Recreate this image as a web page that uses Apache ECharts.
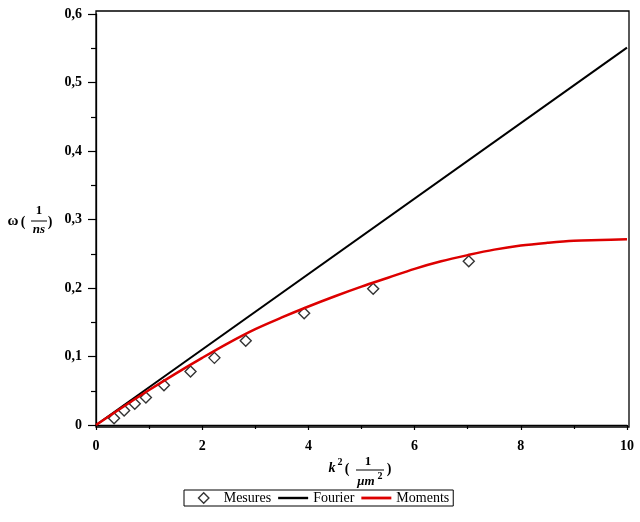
<!DOCTYPE html>
<html>
<head>
<meta charset="utf-8">
<script src="https://cdn.jsdelivr.net/npm/echarts@6/dist/echarts.min.js"></script>
<style>
html,body{margin:0;padding:0;background:#fff;}
#chart{width:640px;height:522px;}
</style>
</head>
<body>
<div id="chart"></div>
<script>
// Measured points (Mesures)
var mesuresX = [0.34, 0.53, 0.73, 0.94, 1.28, 1.78, 2.23, 2.82, 3.92, 5.22, 7.02];
var mesuresY = [0.010, 0.021, 0.031, 0.040, 0.058, 0.078, 0.098, 0.123, 0.163, 0.199, 0.239];
// Fourier line
var fourierX = [0, 10];
var fourierY = [0, 0.551];
// Moments curve
var momentsX = [0, 0.5, 1, 1.5, 2, 2.5, 3, 3.5, 4, 4.5, 5, 5.5, 6, 6.5, 7, 7.5, 8, 8.5, 9, 9.5, 10];
var momentsY = [0, 0.026, 0.051, 0.075, 0.098, 0.120, 0.140, 0.157, 0.173, 0.188, 0.202, 0.215, 0.228, 0.239, 0.248, 0.256, 0.262, 0.266, 0.269, 0.270, 0.271];
// Axis ticks
var xTicks = {min: 0, max: 10, step: 2};
var yTicks = {min: 0, max: 0.6, step: 0.1};
var seriesNames = ['Mesures', 'Fourier', 'Moments'];

function zip(a, b) { return a.map(function (v, i) { return [v, b[i]]; }); }
function comma(v) { return String(Math.round(v * 1000) / 1000).replace('.', ','); }

var SERIF = '"Liberation Serif", "DejaVu Serif", serif';
var chart = echarts.init(document.getElementById('chart'), null, {renderer: 'canvas'});

function txt(x, y, s, font) {
  return {type: 'text', x: x, y: y, z: 10, style: {text: s, font: font + ' ' + SERIF, fill: '#000', align: 'center', verticalAlign: 'middle'}};
}
function bar(x1, x2, y) {
  return {type: 'line', z: 10, shape: {x1: x1, y1: y, x2: x2, y2: y}, style: {stroke: '#000', lineWidth: 1}};
}

var option = {
  animation: false,
  backgroundColor: '#fff',
  grid: [
    {left: 96, right: 13, top: 14, bottom: 97, containLabel: false},
    {left: 96, right: 11, top: 11, bottom: 95, show: true, borderColor: '#000', borderWidth: 1.3, backgroundColor: 'transparent', containLabel: false}
  ],
  xAxis: [
    {
      type: 'value', gridIndex: 0, min: xTicks.min, max: xTicks.max, interval: xTicks.step,
      offset: 2,
      axisLine: {show: true, lineStyle: {color: '#000', width: 1.3}},
      axisTick: {show: true, inside: false, length: 5, lineStyle: {color: '#000', width: 1.2}},
      minorTick: {show: true, splitNumber: 2, length: 4, lineStyle: {color: '#000', width: 1.2}},
      axisLabel: {margin: 12, color: '#000', fontFamily: SERIF, fontWeight: 'bold', fontSize: 14, formatter: comma},
      splitLine: {show: false}
    },
    {type: 'value', gridIndex: 1, show: false, min: 0, max: 1}
  ],
  yAxis: [
    {
      type: 'value', gridIndex: 0, min: yTicks.min, max: yTicks.max, interval: yTicks.step,
      axisLine: {show: true, lineStyle: {color: '#000', width: 1.3}},
      axisTick: {show: true, inside: false, length: 8, lineStyle: {color: '#000', width: 1.2}},
      minorTick: {show: true, splitNumber: 2, length: 5, lineStyle: {color: '#000', width: 1.2}},
      axisLabel: {margin: 14, color: '#000', fontFamily: SERIF, fontWeight: 'bold', fontSize: 14, formatter: comma},
      splitLine: {show: false}
    },
    {type: 'value', gridIndex: 1, show: false, min: 0, max: 1}
  ],
  legend: {
    left: 184, top: 490,
    orient: 'horizontal',
    data: [
      {name: seriesNames[0], icon: 'path://M0,0 M30,12 M15,0.8 L20.2,6 L15,11.2 L9.8,6 Z', itemStyle: {color: '#fff', borderColor: '#000', borderWidth: 1.4}},
      {name: seriesNames[1], icon: 'path://M0,0 M30,12 M0,4.8 L30,4.8 L30,7.2 L0,7.2 Z', itemStyle: {color: '#000', borderWidth: 0}},
      {name: seriesNames[2], icon: 'path://M0,0 M30,12 M0,4.6 L30,4.6 L30,7.4 L0,7.4 Z', itemStyle: {color: '#dd0000', borderWidth: 0}}
    ],
    itemWidth: 30, itemHeight: 12, itemGap: 7,
    padding: [1, 4],
    borderColor: '#000', borderWidth: 1, borderRadius: 0,
    backgroundColor: '#fff',
    textStyle: {fontFamily: SERIF, fontSize: 14, color: '#000', lineHeight: 14},
    selectedMode: false
  },
  series: [
    {
      name: seriesNames[0], type: 'scatter', xAxisIndex: 0, yAxisIndex: 0,
      data: zip(mesuresX, mesuresY),
      symbol: 'diamond', symbolSize: 11,
      itemStyle: {color: '#fff', borderColor: '#000', borderWidth: 1.4},
      z: 2
    },
    {
      name: seriesNames[1], type: 'line', xAxisIndex: 0, yAxisIndex: 0,
      data: zip(fourierX, fourierY),
      showSymbol: false, symbol: 'none',
      lineStyle: {color: '#000', width: 2},
      itemStyle: {color: '#000'},
      z: 3
    },
    {
      name: seriesNames[2], type: 'line', xAxisIndex: 0, yAxisIndex: 0,
      data: zip(momentsX, momentsY),
      smooth: 0.35, showSymbol: false, symbol: 'none',
      lineStyle: {color: '#dd0000', width: 2.5},
      itemStyle: {color: '#dd0000'},
      z: 4
    }
  ],
  graphic: [
    // y-axis title: ω ( 1 / ns )
    txt(13, 221, 'ω', 'bold 15px'),
    txt(23, 222, '(', 'bold 14px'),
    txt(39, 211, '1', 'bold 13px'),
    bar(31, 47, 221),
    txt(39, 230, 'ns', 'italic bold 13px'),
    txt(50, 222, ')', 'bold 14px'),
    // x-axis title: k² ( 1 / μm² )
    txt(332, 468, 'k', 'italic bold 14px'),
    txt(340, 462, '2', 'bold 10px'),
    txt(347, 469, '(', 'bold 14px'),
    txt(368, 462, '1', 'bold 13px'),
    bar(356, 384, 470),
    txt(366, 482, 'μm', 'italic bold 13px'),
    txt(380, 476, '2', 'bold 10px'),
    txt(389, 469, ')', 'bold 14px')
  ]
};
chart.setOption(option);
</script>
</body>
</html>
